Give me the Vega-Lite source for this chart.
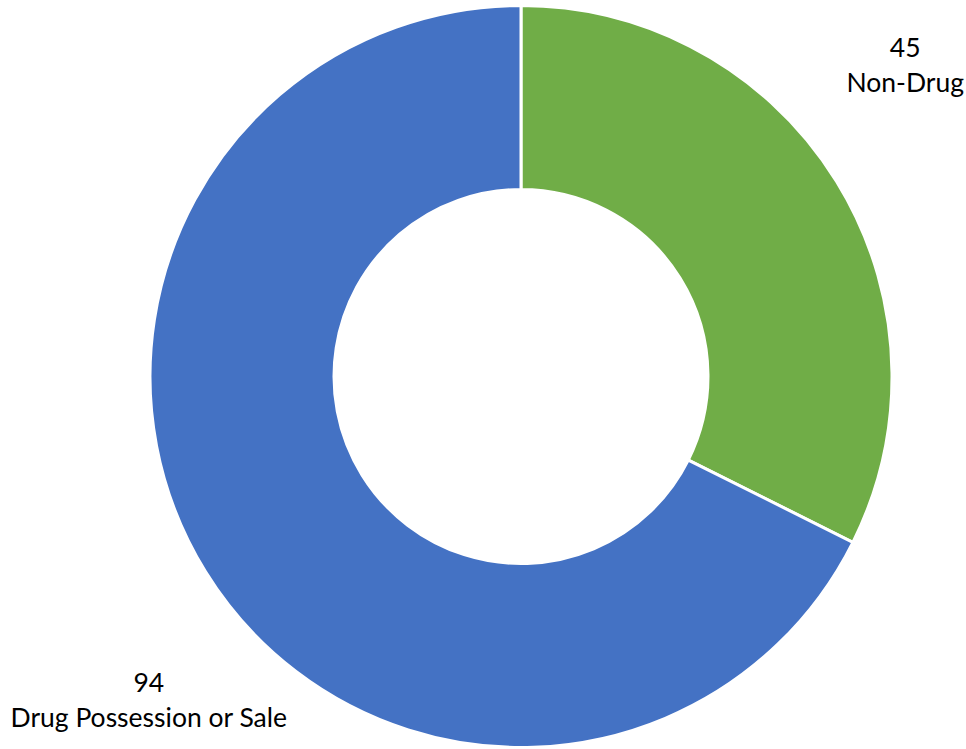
{
  "$schema": "https://vega.github.io/schema/vega-lite/v6.json",
  "width": 890,
  "height": 745,
  "autosize": {"type": "none"},
  "padding": {"left": 76, "top": 4, "right": 0, "bottom": 0},
  "background": "white",
  "config": {"view": {"stroke": null}},
  "data": {
    "values": [
      {"category": "Non-Drug", "value": 45},
      {"category": "Drug Possession or Sale", "value": 94}
    ]
  },
  "encoding": {
    "theta": {"field": "value", "type": "quantitative", "stack": true},
    "order": {"field": "value", "sort": "ascending"}
  },
  "layer": [
    {
      "mark": {"type": "arc", "outerRadius": 371, "innerRadius": 187, "stroke": "white", "strokeWidth": 3},
      "encoding": {
        "color": {
          "field": "category",
          "type": "nominal",
          "scale": {"domain": ["Non-Drug", "Drug Possession or Sale"], "range": ["#70AD47", "#4472C4"]},
          "legend": null
        }
      }
    },
    {
      "transform": [{"calculate": "datum.value + '\\n' + datum.category", "as": "label"}],
      "mark": {"type": "text", "radius": 494, "thetaOffset": -0.145, "dx": 6, "dy": -10, "font": "Lato", "fontSize": 26.5, "lineBreak": "\n", "lineHeight": 35, "align": "center", "baseline": "middle", "color": "#000000"},
      "encoding": {
        "text": {"field": "label", "type": "nominal"}
      }
    }
  ]
}
